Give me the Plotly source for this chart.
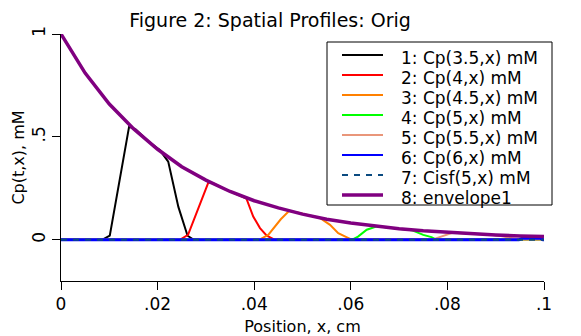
import plotly.graph_objects as go

# ---------------- data ----------------
x_env = [0, 0.005, 0.01, 0.015, 0.02, 0.025, 0.03, 0.035, 0.04, 0.045, 0.05,
         0.055, 0.06, 0.065, 0.07, 0.075, 0.08, 0.085, 0.09, 0.095, 0.1]
y_env = [1.0, 0.81, 0.66, 0.54, 0.44, 0.355, 0.29, 0.235, 0.19, 0.155, 0.125,
         0.10, 0.082, 0.067, 0.054, 0.044, 0.036, 0.029, 0.024, 0.019, 0.016]

x_cp35 = [0, 0.0085, 0.0101, 0.0141, 0.0155, 0.018, 0.0205, 0.0222, 0.0243, 0.0255, 0.0262, 0.0275, 0.1]
y_cp35 = [0, 0, 0.02, 0.55, 0.535, 0.48, 0.435, 0.38, 0.16, 0.07, 0.02, 0, 0]

x_cp40 = [0, 0.0246, 0.0263, 0.0305, 0.0315, 0.034, 0.037, 0.0384, 0.0398, 0.0412, 0.0426, 0.0443, 0.1]
y_cp40 = [0, 0, 0.024, 0.278, 0.275, 0.245, 0.215, 0.2, 0.113, 0.057, 0.02, 0, 0]

x_cp45 = [0, 0.041, 0.0429, 0.0455, 0.0472, 0.049, 0.0515, 0.0536, 0.0557, 0.0574, 0.0591, 0.0603, 0.1]
y_cp45 = [0, 0, 0.024, 0.1, 0.14, 0.133, 0.118, 0.107, 0.073, 0.032, 0.013, 0, 0]

x_cp50 = [0, 0.0602, 0.0615, 0.0633, 0.0654, 0.068, 0.0705, 0.0726, 0.075, 0.0767, 0.0778, 0.1]
y_cp50 = [0, 0, 0.016, 0.049, 0.066, 0.06, 0.053, 0.047, 0.024, 0.013, 0, 0]

x_cp55 = [0, 0.0767, 0.0812, 0.087, 0.0895, 0.091, 0.0935, 0.0955, 0.1]
y_cp55 = [0, 0, 0.035, 0.028, 0.024, 0.018, 0.009, 0, 0]

x_cp60 = [0, 0.0948, 0.0955, 0.0992, 0.0998, 0.1]
y_cp60 = [0, 0, 0.008, 0.008, 0, 0]

x_cisf = [0, 0.1]
y_cisf = [0, 0]

names = ["1: Cp(3.5,x) mM", "2: Cp(4,x) mM", "3: Cp(4.5,x) mM", "4: Cp(5,x) mM",
         "5: Cp(5.5,x) mM", "6: Cp(6,x) mM", "7: Cisf(5,x) mM", "8: envelope1"]

x_tickvals = [0, 0.02, 0.04, 0.06, 0.08, 0.1]
x_ticktext = ["0", ".02", ".04", ".06", ".08", ".1"]
y_tickvals = [0, 0.5, 1]
y_ticktext = ["0", ".5", "1"]

# ---------------- styling ----------------
FONT = "DejaVu Sans"
W, H = 581, 336
L, R, T, B = 61, 544, 34, 281   # plot area in pixels

series = [
    (x_cp35, y_cp35, "#000000", 2, "solid"),
    (x_cp40, y_cp40, "#ff0000", 2, "solid"),
    (x_cp45, y_cp45, "#ff8000", 2, "solid"),
    (x_cp50, y_cp50, "#00ff00", 2, "solid"),
    (x_cp55, y_cp55, "#e9967a", 2, "solid"),
    (x_cp60, y_cp60, "#0000ff", 3, "solid"),
    (x_cisf, y_cisf, "#0a4a80", 2, "6px,6px"),
    (x_env, y_env, "#800080", 3.5, "solid"),
]

fig = go.Figure()
for (xs, ys, col, wd, dash), nm in zip(series, names):
    fig.add_trace(go.Scatter(x=xs, y=ys, mode="lines", name=nm,
                             line=dict(color=col, width=wd, dash=dash),
                             showlegend=False, cliponaxis=False))


def px_x(p):
    return (p - L) / (R - L)


def px_y(p):
    return (B - p) / (B - T)


shapes = [dict(type="rect", xref="paper", yref="paper",
               x0=px_x(327), x1=px_x(552), y0=px_y(205), y1=px_y(42),
               line=dict(color="black", width=1), fillcolor="white", layer="above")]
annotations = []
for i, ((xs, ys, col, wd, dash), nm) in enumerate(zip(series, names)):
    ly = 55 + 20 * i
    shapes.append(dict(type="line", xref="paper", yref="paper",
                       x0=px_x(342), x1=px_x(383), y0=px_y(ly), y1=px_y(ly),
                       line=dict(color=col, width=2 if i < 7 else 3.5, dash=dash),
                       layer="above"))
    annotations.append(dict(text=nm, xref="paper", yref="paper",
                            x=px_x(399), y=px_y(ly + 3), xanchor="left", yanchor="middle",
                            showarrow=False, font=dict(family=FONT, size=17, color="black")))

fig.update_layout(
    width=W, height=H,
    margin=dict(l=L, r=W - R, t=T, b=H - B, pad=0),
    paper_bgcolor="white", plot_bgcolor="white",
    font=dict(family=FONT, size=16, color="black"),
    title=dict(text="Figure 2: Spatial Profiles: Orig", x=270 / W, xref="container",
               xanchor="center", y=1 - 20 / H, yref="container", yanchor="middle",
               font=dict(family=FONT, size=19, color="black")),
    shapes=shapes,
    annotations=annotations,
    showlegend=False,
)
fig.update_xaxes(range=[0, 0.1], tickvals=x_tickvals, ticktext=x_ticktext, automargin=False,
                 showline=True, linecolor="black", linewidth=1, showgrid=False, zeroline=False,
                 ticks="outside", ticklen=8, tickcolor="black",
                 title=dict(text="Position, x, cm", font=dict(size=16), standoff=7),
                 tickfont=dict(size=17))
fig.update_yaxes(range=[-0.2, 1], tickvals=y_tickvals, ticktext=y_ticktext, tickangle=-90,
                 automargin=False,
                 showline=True, linecolor="black", linewidth=1, showgrid=False, zeroline=False,
                 ticks="outside", ticklen=8, tickcolor="black",
                 title=dict(text="Cp(t,x), mM", font=dict(size=16), standoff=0),
                 tickfont=dict(size=17))

fig.write_html("out.html")
